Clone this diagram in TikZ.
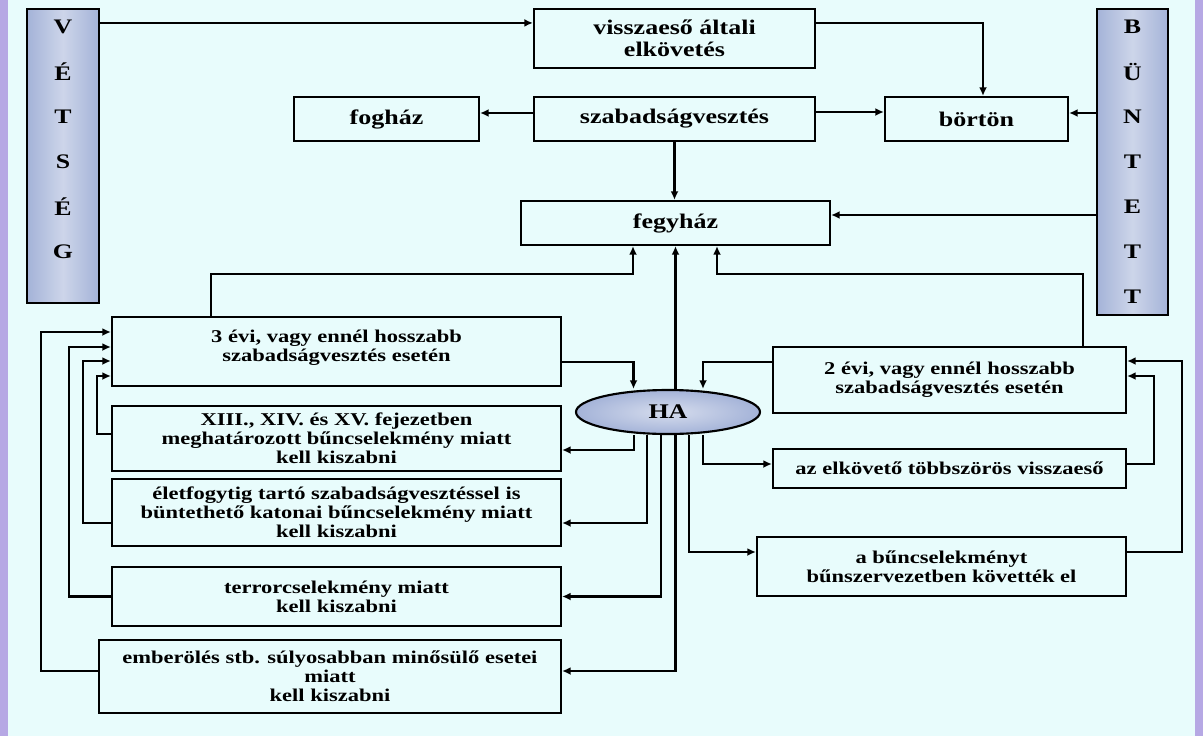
\documentclass[tikz,border=0pt]{standalone}
\usepackage{fontspec}
\setmainfont[FakeStretch=1.25]{Liberation Serif}
\usepackage{tikz}
\usetikzlibrary{arrows.meta,positioning,shapes.geometric,calc}
\definecolor{bgcyan}{HTML}{E8FCFC}
\definecolor{edgepurple}{HTML}{B6A8E4}
\definecolor{barblue}{HTML}{A4B3D8}

\begin{document}
\begin{tikzpicture}
[x=0.75pt, y=-0.75pt, >={Latex[length=6.5pt,width=6pt]}, line width=1.6pt, node distance=33.75pt,
box/.style = 
{draw, shape=rectangle, align=center, inner sep=0pt, fill=bgcyan,
 font=\fontsize{13.5}{14.25}\selectfont\bfseries},
bigbox/.style = {box, font=\fontsize{15.6}{16.5}\selectfont\bfseries},
bar/.style = {draw, shape=rectangle, left color=barblue, right color=barblue,
 middle color=barblue!55!white, minimum width=53.5pt},
letter/.style = {on grid, inner sep=0pt, font=\fontsize{15.5}{15.5}\selectfont\bfseries}]
\useasboundingbox (0,0) rectangle (1203,736);
\fill[bgcyan] (0,0) rectangle (1203,736);
\fill[edgepurple] (0,0) rectangle (8,736);
\fill[edgepurple] (1195,0) rectangle (1203,736);

% side bars
\node [bar, minimum height=220.5pt](vet) at (63,156){};
\node [letter](v1) at ($(vet.north)+(0,19)$){V};
\node [letter, below=of v1](v2){É};
\node [letter, below=of v2](v3){T};
\node [letter, below=of v3](v4){S};
\node [letter, below=of v4](v5){É};
\node [letter, below=of v5](v6){G};

\node [bar, minimum height=229.5pt](bun) at (1132.5,162){};
\node [letter](b1) at ($(bun.north)+(0,19)$){B};
\node [letter, below=of b1](b2){Ü};
\node [letter, below=of b2](b3){N};
\node [letter, below=of b3](b4){T};
\node [letter, below=of b4](b5){E};
\node [letter, below=of b5](b6){T};
\node [letter, below=of b6](b7){T};

% upper boxes
\node [bigbox, minimum width=210.75pt, minimum height=44.25pt](vissza) at (674.5,38.5){visszaeső általi\\elkövetés};
\node [bigbox, minimum width=210.75pt, minimum height=33pt](szab) at (674.5,119){szabadságvesztés};
\node [bigbox, minimum width=138.75pt, minimum height=33pt](fog) at (386.5,119){fogház};
\node [bigbox, minimum width=137.25pt, minimum height=33pt](bort) at (976.5,119){börtön};
\node [bigbox, minimum width=231.75pt, minimum height=33pt](fegy) at (675.5,223){fegyház};

% left column
\node [box, minimum width=336.75pt, minimum height=51.75pt](harom) at (336.5,351.5){3 évi, vagy ennél hosszabb\\szabadságvesztés esetén\\[-5.25pt]};
\node [box, minimum width=336.75pt, minimum height=48.75pt](fej) at (336.5,438.5){XIII., XIV. és XV. fejezetben\\meghatározott bűncselekmény miatt\\kell kiszabni};
\node [box, minimum width=336.75pt, minimum height=50.25pt](elet) at (336.5,512.5){életfogytig tartó szabadságvesztéssel is\\büntethető katonai bűncselekmény miatt\\kell kiszabni};
\node [box, minimum width=336.75pt, minimum height=44.25pt](terror) at (336.5,596.5){terrorcselekmény miatt\\kell kiszabni};
\node [box, minimum width=346.5pt, minimum height=54.75pt](ember) at (330,676.5){emberölés stb. súlyosabban minősülő esetei\\miatt\\kell kiszabni};

% HA and right column
\node [draw, shape=ellipse, inner color=barblue!45!white, outer color=barblue, inner sep=0pt,
 minimum width=138pt, minimum height=33pt,
 font=\fontsize{15.6}{16.5}\selectfont\bfseries](ha) at (668,412){HA};
\node [box, minimum width=264.75pt, minimum height=49.5pt](ket) at (949.5,380){2 évi, vagy ennél hosszabb\\szabadságvesztés esetén};
\node [box, minimum width=264.75pt, minimum height=29.25pt](tobb) at (949.5,468.5){az elkövető többszörös visszaeső};
\node [box, minimum width=276.75pt, minimum height=44.25pt](szerv) at (941.5,566.5){a bűncselekményt\\bűnszervezetben követték el};

% top connectors
\draw[->] ($(vet.north east)+(0,15)$) -- ($(vissza.north west)+(0,15)$);
\draw[->] ($(vissza.north east)+(0,15)$) -| ($(bort.north)+(6.5,0)$);
\draw[->] ($(szab.west)+(0,-6)$) -- ($(fog.east)+(0,-6)$);
\draw[->] ($(szab.east)+(0,-7)$) -- ($(bort.west)+(0,-7)$);
\coordinate (bb) at ($(bort.east)+(0,-6)$);
\draw[->] (bb -| bun.west) -- (bb);
\coordinate (fb) at ($(fegy.east)+(0,-8)$);
\draw[->] (fb -| bun.west) -- (fb);
\draw[->] (szab.south) -- (szab.south |- fegy.north);

% into fegyhaz
\draw[->] ($(harom.north)+(-125.5,0)$) |- ($(fegy.south)+(-42.5,28)$) -- ($(fegy.south)+(-42.5,0)$);
\draw[->] ($(ket.north)+(133.5,0)$) |- ($(fegy.south)+(41.5,28)$) -- ($(fegy.south)+(41.5,0)$);
\draw[->] (ha.north -| fegy.south) -- (fegy.south);

% into HA
\draw[->] ($(harom.east)+(0,10.5)$) -| ($(ha.north)+(-34.5,0)$);
\draw[->] ($(ket.west)+(0,-18)$) -| ($(ha.north)+(35,0)$);

% out of HA
\draw[->] ($(ha.south)+(-34,0)$) |- ($(fej.east)+(0,11.5)$);
\draw[->] ($(ha.south)+(-21,0)$) |- ($(elet.east)+(0,10.5)$);
\draw[->] ($(ha.south)+(-7,0)$) |- (terror.east);
\draw[->] (ha.south -| fegy.south) |- ($(ember.east)+(0,-5.5)$);
\draw[->] ($(ha.south)+(21,0)$) |- ($(szerv.west)+(0,-14.5)$);
\draw[->] ($(ha.south)+(35,0)$) |- ($(tobb.west)+(0,-4.5)$);

% back to 2 evi
\draw[->] ($(tobb.east)+(0,-4.5)$) -| ($(ket.east)+(27,-4)$) -- ($(ket.east)+(0,-4)$);
\draw[->] ($(szerv.east)+(0,-14.5)$) -| ($(ket.east)+(55,-19)$) -- ($(ket.east)+(0,-19)$);

% back to 3 evi
\draw[->] ($(fej.west)+(0,-4.5)$) -| ($(harom.west)+(-14,24.5)$) -- ($(harom.west)+(0,24.5)$);
\draw[->] ($(elet.west)+(0,10.5)$) -| ($(harom.west)+(-28,9.5)$) -- ($(harom.west)+(0,9.5)$);
\draw[->] (terror.west) -| ($(harom.west)+(-42,-4.5)$) -- ($(harom.west)+(0,-4.5)$);
\draw[->] ($(ember.west)+(0,-5.5)$) -| ($(harom.west)+(-70,-19.5)$) -- ($(harom.west)+(0,-19.5)$);

\end{tikzpicture}
\end{document}
